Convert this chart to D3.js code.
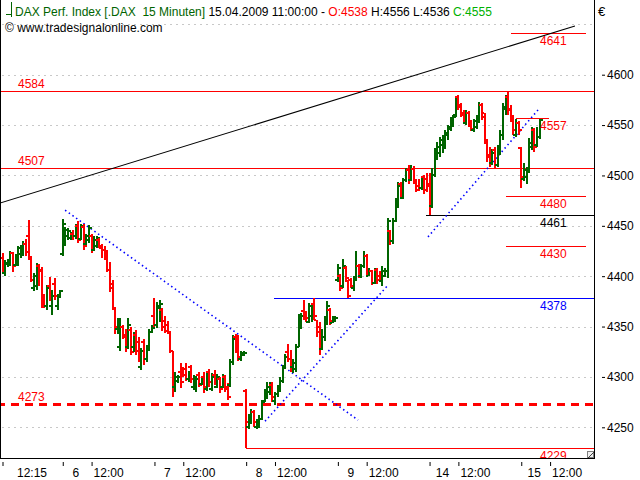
<!DOCTYPE html>
<html><head><meta charset="utf-8">
<script src="https://cdn.jsdelivr.net/npm/d3@7/dist/d3.min.js"></script>
<style>
body{margin:0;background:#fff}
svg{display:block}
text{font-family:"Liberation Sans",Arial,sans-serif}
</style>
</head><body>
<svg id="chart" width="640" height="480"></svg>
<script>
// ---------- DATA (OHLC per 15-minute bar, grouped by trading day) ----------
const day03 = [
[4418,4423,4403,4404],[4403,4416,4400,4413],[4412,4417,4409,4415],[4413,4425,4410,4423],
[4423,4424,4404,4410],[4411,4422,4410,4420],[4415,4430,4410,4428],[4422,4431,4418,4428],
[4425,4435,4420,4432],[4432,4437,4420,4424],[4440,4456,4416,4418],[4418,4420,4394,4396],
[4388,4403,4385,4400],[4390,4413,4386,4410],[4410,4412,4390,4406],[4405,4409,4368,4372],
[4380,4382,4368,4370],[4370,4391,4366,4388],[4390,4399,4375,4378],[4370,4386,4361,4380],
[4392,4398,4376,4380],[4370,4382,4366,4379],[4380,4386,4379,4385]];
const day06 = [
[4422,4457,4420,4452],[4440,4449,4430,4446],[4440,4448,4436,4445],[4438,4444,4436,4442],
[4442,4446,4436,4440],[4440,4452,4437,4450],[4450,4455,4433,4436],[4437,4452,4436,4450],
[4449,4452,4426,4430],[4432,4442,4431,4440],[4436,4451,4433,4448],[4440,4442,4423,4428],
[4426,4440,4425,4436],[4430,4440,4428,4438],[4436,4438,4428,4430],[4428,4432,4418,4426],
[4426,4430,4416,4420],[4420,4426,4404,4406],[4406,4414,4384,4388],[4392,4396,4366,4368],
[4368,4368,4343,4350],[4348,4358,4343,4354],[4330,4358,4326,4350],[4350,4352,4338,4340],
[4342,4348,4325,4330],[4330,4358,4328,4352],[4347,4350,4322,4325],[4330,4345,4325,4342],
[4342,4347,4322,4326],[4335,4340,4315,4318],[4310,4329,4307,4326],[4335,4338,4312,4318],
[4318,4332,4315,4330],[4330,4348,4326,4345],[4345,4352,4344,4349]];
const day07 = [
[4360,4378,4350,4352],[4352,4374,4349,4370],[4368,4376,4355,4372],[4366,4368,4346,4350],
[4356,4360,4344,4346],[4352,4356,4343,4345],[4345,4346,4324,4326],[4326,4326,4280,4290],
[4290,4305,4285,4300],[4296,4302,4294,4300],[4305,4314,4289,4295],[4305,4310,4300,4302],
[4308,4314,4296,4298],[4298,4306,4295,4302],[4310,4312,4294,4298],[4290,4302,4287,4300],
[4292,4301,4285,4298],[4302,4305,4290,4292],[4293,4300,4292,4298],[4300,4305,4284,4290],
[4288,4306,4286,4300],[4305,4308,4290,4295],[4288,4304,4286,4300],[4302,4307,4292,4296],
[4290,4303,4289,4300],[4298,4300,4284,4288],[4290,4303,4289,4298],[4300,4302,4285,4288],
[4290,4294,4277,4280],[4292,4318,4290,4315],[4315,4342,4312,4338],[4340,4343,4324,4328],
[4335,4342,4316,4320],[4318,4326,4316,4324],[4322,4326,4321,4324]];
const day08 = [
[4286,4288,4229,4255],[4250,4263,4248,4260],[4255,4268,4253,4265],[4265,4267,4250,4255],
[4250,4258,4248,4256],[4252,4262,4249,4258],[4258,4277,4257,4275],[4276,4288,4275,4285],
[4285,4295,4278,4290],[4285,4295,4282,4292],[4292,4295,4275,4280],[4276,4285,4272,4283],
[4283,4292,4280,4290],[4288,4300,4285,4296],[4296,4312,4294,4310],[4310,4323,4308,4320],
[4325,4333,4315,4318],[4318,4327,4305,4310],[4310,4318,4304,4314],[4308,4333,4305,4330],
[4330,4362,4330,4358],[4350,4363,4348,4360],[4365,4376,4357,4360],[4362,4365,4355,4358],
[4355,4373,4354,4370],[4360,4372,4355,4368],[4372,4378,4357,4360],[4357,4357,4340,4345],
[4350,4355,4322,4328],[4328,4348,4327,4340],[4340,4360,4336,4355],[4355,4375,4352,4370],
[4366,4368,4352,4356],[4354,4360,4354,4358],[4356,4360,4355,4358]];
const day09 = [
[4396,4412,4394,4408],[4400,4402,4385,4388],[4390,4417,4388,4410],[4408,4410,4395,4398],
[4395,4396,4378,4380],[4396,4398,4388,4390],[4388,4400,4385,4398],[4398,4425,4395,4410],
[4410,4412,4398,4400],[4400,4412,4398,4410],[4410,4425,4408,4420],[4420,4422,4400,4405],
[4400,4408,4400,4405],[4405,4406,4391,4393],[4393,4408,4392,4404],[4406,4408,4392,4396],
[4400,4405,4395,4397],[4395,4410,4390,4405],[4400,4408,4399,4405],[4405,4458,4398,4455],
[4445,4446,4431,4435],[4435,4458,4432,4455],[4455,4478,4454,4475],[4470,4493,4468,4490],
[4492,4493,4478,4480],[4478,4497,4477,4495],[4495,4507,4493,4505],[4505,4510,4492,4495],
[4495,4510,4494,4506],[4506,4509,4492,4494],[4494,4496,4484,4486],[4490,4496,4485,4488],
[4488,4498,4486,4496],[4498,4500,4482,4486],[4496,4502,4484,4490]];
const day14 = [
[4492,4502,4461,4470],[4470,4507,4468,4500],[4500,4527,4498,4522],[4518,4533,4515,4528],
[4522,4538,4518,4535],[4530,4540,4522,4536],[4528,4545,4526,4542],[4540,4550,4535,4548],
[4546,4558,4544,4556],[4552,4560,4548,4558],[4560,4577,4558,4574],[4578,4580,4565,4568],
[4570,4572,4558,4560],[4562,4565,4552,4555],[4552,4565,4550,4562],[4562,4564,4548,4550],
[4552,4555,4544,4546],[4545,4556,4543,4554],[4548,4560,4546,4557],[4556,4573,4552,4570],
[4570,4572,4555,4558],[4562,4562,4532,4535],[4532,4535,4513,4518],[4520,4528,4508,4512],
[4512,4526,4510,4522],[4525,4528,4507,4510],[4510,4530,4508,4528],[4525,4545,4520,4540],
[4540,4572,4535,4568],[4566,4580,4560,4578],[4578,4584,4560,4565],[4566,4570,4553,4556],
[4556,4560,4540,4545],[4540,4556,4538,4552],[4552,4554,4540,4545]];
const day15 = [
[4527,4528,4488,4498],[4496,4512,4494,4505],[4498,4508,4492,4504],[4504,4537,4502,4532],
[4528,4548,4525,4545],[4545,4547,4523,4528],[4530,4548,4528,4538],[4538,4556,4536,4555]];

const dayLabels = ["12:15","6","7","8","9","14","15"];
const middayLabel = "12:00";
const middayOffset = 11;            // bars after day start (15-min bars ending 12:00)
const yTicks = [4250,4300,4350,4400,4450,4500,4550,4600];
const gridLevels = [4250,4300,4350,4400,4450,4500,4550,4600,4650];

// horizontal support/resistance levels: value, bar-index range, colour, label side
const levels = [
  {v:4641, from:194,  to:222.7, color:"#ff0000", side:"right"},
  {v:4584, from:-2,   to:226,   color:"#ff0000", side:"left"},
  {v:4557, from:196,  to:208.6, color:"#ff0000", side:"right"},
  {v:4507, from:-2,   to:226,   color:"#ff0000", side:"left"},
  {v:4480, from:192.3,to:222.7, color:"#ff0000", side:"right"},
  {v:4461, from:161.6,to:226,   color:"#000000", side:"right"},
  {v:4430, from:192.3,to:222.7, color:"#ff0000", side:"right"},
  {v:4378, from:103.6,to:226,   color:"#0000ff", side:"right"},
  {v:4273, from:-2,   to:226,   color:"#ff0000", side:"left", dashed:true},
  {v:4229, from:93,   to:226,   color:"#ff0000", side:"right"}
];
// trend lines: [barIndex, price] pairs
const trendBlack = [[-0.95,4472.6],[218.5,4648.3]];
const trendBlueDown = [[23.9,4465.5],[135.7,4257.2]];
const trendBlueUp1 = [[100.2,4256],[147.1,4391]];
const trendBlueUp2 = [[162.4,4439],[204.4,4565]];

// ---------- BUILD ----------
const days = [day03,day06,day07,day08,day09,day14,day15];
const bars = [];
const dayStarts = [];
days.forEach(d=>{ dayStarts.push(bars.length); d.forEach(b=>bars.push(b)); });

const RED="#ff0000", GREEN="#006400";
const W=640,H=480, plotRight=594, plotBottom=458;
const svg = d3.select("#chart");
svg.append("rect").attr("width",W).attr("height",H).attr("fill","#fff");

const x = d3.scaleLinear().domain([0,205]).range([2.5, 2.5+205*2.62]);
const y = d3.scaleLinear().domain([4250,4600]).range([427.3,74.7]);

svg.append("clipPath").attr("id","clip").append("rect")
  .attr("x",1).attr("y",0).attr("width",plotRight-1).attr("height",plotBottom);

// gridlines
svg.append("g").selectAll("line").data(gridLevels).join("line")
  .attr("x1",2).attr("x2",plotRight).attr("y1",d=>Math.round(y(d))+0.5).attr("y2",d=>Math.round(y(d))+0.5)
  .attr("stroke","#c8c8c8").attr("stroke-width",1).attr("stroke-dasharray","2,4");

const plot = svg.append("g").attr("clip-path","url(#clip)");

// levels
const lv = plot.append("g");
lv.selectAll("line").data(levels).join("line")
  .attr("x1",d=>x(d.from)).attr("x2",d=>x(d.to))
  .attr("y1",d=>Math.round(y(d.v))+(d.dashed?0:0.5)).attr("y2",d=>Math.round(y(d.v))+(d.dashed?0:0.5))
  .attr("stroke",d=>d.color).attr("stroke-width",d=>d.dashed?3:1)
  .attr("stroke-dasharray",d=>d.dashed?"8,6":null)
  .attr("shape-rendering","crispEdges");

// trend lines
const line = d3.line().x(d=>x(d[0])).y(d=>y(d[1]));
plot.append("path").attr("d",line(trendBlack)).attr("stroke","#000").attr("stroke-width",1.1).attr("fill","none");
[trendBlueDown,trendBlueUp1,trendBlueUp2].forEach(t=>{
  plot.append("path").attr("d",line(t)).attr("stroke","#0000ff").attr("stroke-width",1.6)
    .attr("stroke-dasharray","1.5,3").attr("fill","none");
});

// OHLC bars
const bg = plot.append("g").attr("shape-rendering","crispEdges");
const bsel = bg.selectAll("g").data(bars).join("g")
  .attr("fill",d=>d[3]>=d[0]?GREEN:RED);
bsel.append("rect").attr("x",(d,i)=>Math.round(x(i))-1).attr("width",2)
  .attr("y",d=>Math.round(y(d[1])))
  .attr("height",d=>Math.max(1,Math.round(y(d[2]))-Math.round(y(d[1]))));
bsel.append("rect").attr("x",(d,i)=>Math.round(x(i))-3).attr("width",2)
  .attr("y",d=>Math.round(y(d[0]))-1).attr("height",2);
bsel.append("rect").attr("x",(d,i)=>Math.round(x(i))+1).attr("width",2)
  .attr("y",d=>Math.round(y(d[3]))-1).attr("height",2);

// level labels
const lab = plot.append("g").style("font-size","12px");
lab.selectAll("text").data(levels).join("text")
  .attr("x",d=>d.side==="left"?18:540)
  .attr("y",d=>d.side==="left"?Math.round(y(d.v))-3:Math.round(y(d.v))+12)
  .attr("fill",d=>d.color==="#000000"?"#000":d.color)
  .text(d=>d.v);

// frame
svg.append("line").attr("x1",0.5).attr("x2",0.5).attr("y1",0).attr("y2",plotBottom).attr("stroke","#000");
svg.append("line").attr("x1",plotRight+0.5).attr("x2",plotRight+0.5).attr("y1",0).attr("y2",plotBottom+1).attr("stroke","#000");
svg.append("line").attr("x1",0).attr("x2",plotRight+1).attr("y1",plotBottom+0.5).attr("y2",plotBottom+0.5).attr("stroke","#000");
// small resize box in corner
svg.append("rect").attr("x",plotRight-6.5).attr("y",plotBottom-6.5).attr("width",6).attr("height",6)
  .attr("fill","#f0f0f0").attr("stroke","#808080");
svg.append("path").attr("d",`M${plotRight-6},${plotBottom}L${plotRight},${plotBottom-6}`).attr("stroke","#404040").attr("fill","none");

// y axis (right)
const yAxis = d3.axisRight(y).tickValues(yTicks).tickSize(3).tickPadding(2).tickFormat(d3.format("d"));
const ya = svg.append("g").attr("transform",`translate(${plotRight+8},0)`).call(yAxis);
ya.select(".domain").remove();
ya.selectAll("text").style("font-size","12px").style("font-family",'"Liberation Sans",Arial,sans-serif').attr("fill","#000");
ya.selectAll("line").attr("stroke","#000");
svg.append("text").attr("x",598).attr("y",16).style("font-size","13px").text("€");

// x axis
const tickIdx=[], tickLab=[];
dayStarts.forEach((s,k)=>{
  tickIdx.push(s); tickLab.push(dayLabels[k]);
  if(k>0 && s+middayOffset < bars.length+4){ tickIdx.push(s+middayOffset); tickLab.push(middayLabel); }
});
const xAxis = d3.axisBottom(x).tickValues(tickIdx).tickSize(4).tickPadding(0)
  .tickFormat((d,i)=>tickLab[i]);
const xa = svg.append("g").attr("transform",`translate(0,${plotBottom+4})`).call(xAxis);
xa.select(".domain").remove();
xa.selectAll("line").attr("stroke","#000");
xa.selectAll("text").style("font-size","12px").style("font-family",'"Liberation Sans",Arial,sans-serif')
  .attr("fill","#000").attr("dy","0").attr("y",15)
  .attr("text-anchor",(d,i)=>tickLab[i]===middayLabel?"start":"middle")
  .attr("x",(d,i)=>tickLab[i]===middayLabel?1.5:(i===0?29:12.5));

// header
const hdr = svg.append("g").style("font-size","12px");
hdr.append("line").attr("x1",11.5).attr("x2",11.5).attr("y1",2).attr("y2",17).attr("stroke",GREEN);
hdr.append("line").attr("x1",6).attr("x2",11).attr("y1",14.5).attr("y2",14.5).attr("stroke",GREEN);
const t1 = hdr.append("text").attr("x",15).attr("y",16).attr("xml:space","preserve").style("white-space","pre");
t1.append("tspan").attr("fill","#006400").text("DAX Perf. Index [.DAX  15 Minuten] ");
t1.append("tspan").attr("fill","#000").text("15.04.2009 11:00:00 - ");
t1.append("tspan").attr("fill","#ff0000").text("O:4538 ");
t1.append("tspan").attr("fill","#000").text("H:4556 L:4536 ");
t1.append("tspan").attr("fill","#00b000").text("C:4555");
hdr.append("text").attr("x",5).attr("y",32).attr("fill","#000").text("© www.tradesignalonline.com");
</script>
</body></html>
